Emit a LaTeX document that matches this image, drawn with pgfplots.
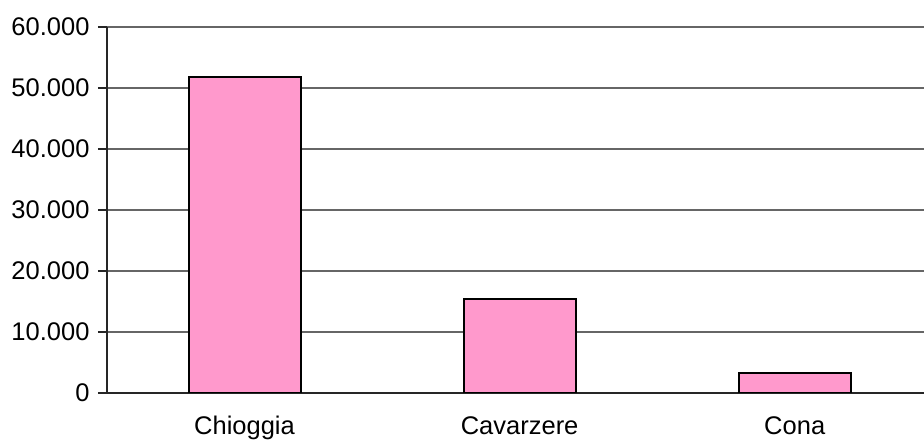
\documentclass[border=0pt]{standalone}
\usepackage{fontspec}
\setmainfont{Liberation Sans}
\usepackage{pgfplots}
\pgfplotsset{compat=1.18}
\definecolor{barpink}{HTML}{FF99CC}
\begin{document}
\begin{tikzpicture}
\begin{axis}[
  at={(107bp,48bp)}, anchor=south west,
  scale only axis,
  width=817bp, height=366bp,
  xmin=-0.5, xmax=2.47,
  ymin=0, ymax=60000,
  ytick={0,10000,20000,30000,40000,50000,60000},
  scaled y ticks=false,
  /pgf/number format/.cd, 1000 sep={.}, assume math mode=true,
  /pgfplots/.cd,
  xtick={0,1,2},
  xticklabels={Chioggia,Cavarzere,Cona},
  axis x line*=bottom, axis y line*=left,
  axis line style={-, black!85, line width=1.2bp},
  ymajorgrids,
  grid style={black!60, line width=1.1bp},
  x tick style={draw=none},
  y tick style={black!85, line width=1.2bp},
  tick align=outside,
  major tick length=9bp,
  ticklabel style={font=\fontsize{25.5bp}{30bp}\selectfont},
  yticklabel style={xshift=-5bp},
  xticklabel style={yshift=-11bp},
  ybar, bar width=112bp,
]
\addplot[fill=barpink, draw=black, line width=2bp] coordinates {(0,51800) (1,15450) (2,3200)};
\end{axis}
\pgfresetboundingbox
\path (0,0) rectangle (924bp,441bp);
\end{tikzpicture}
\end{document}
